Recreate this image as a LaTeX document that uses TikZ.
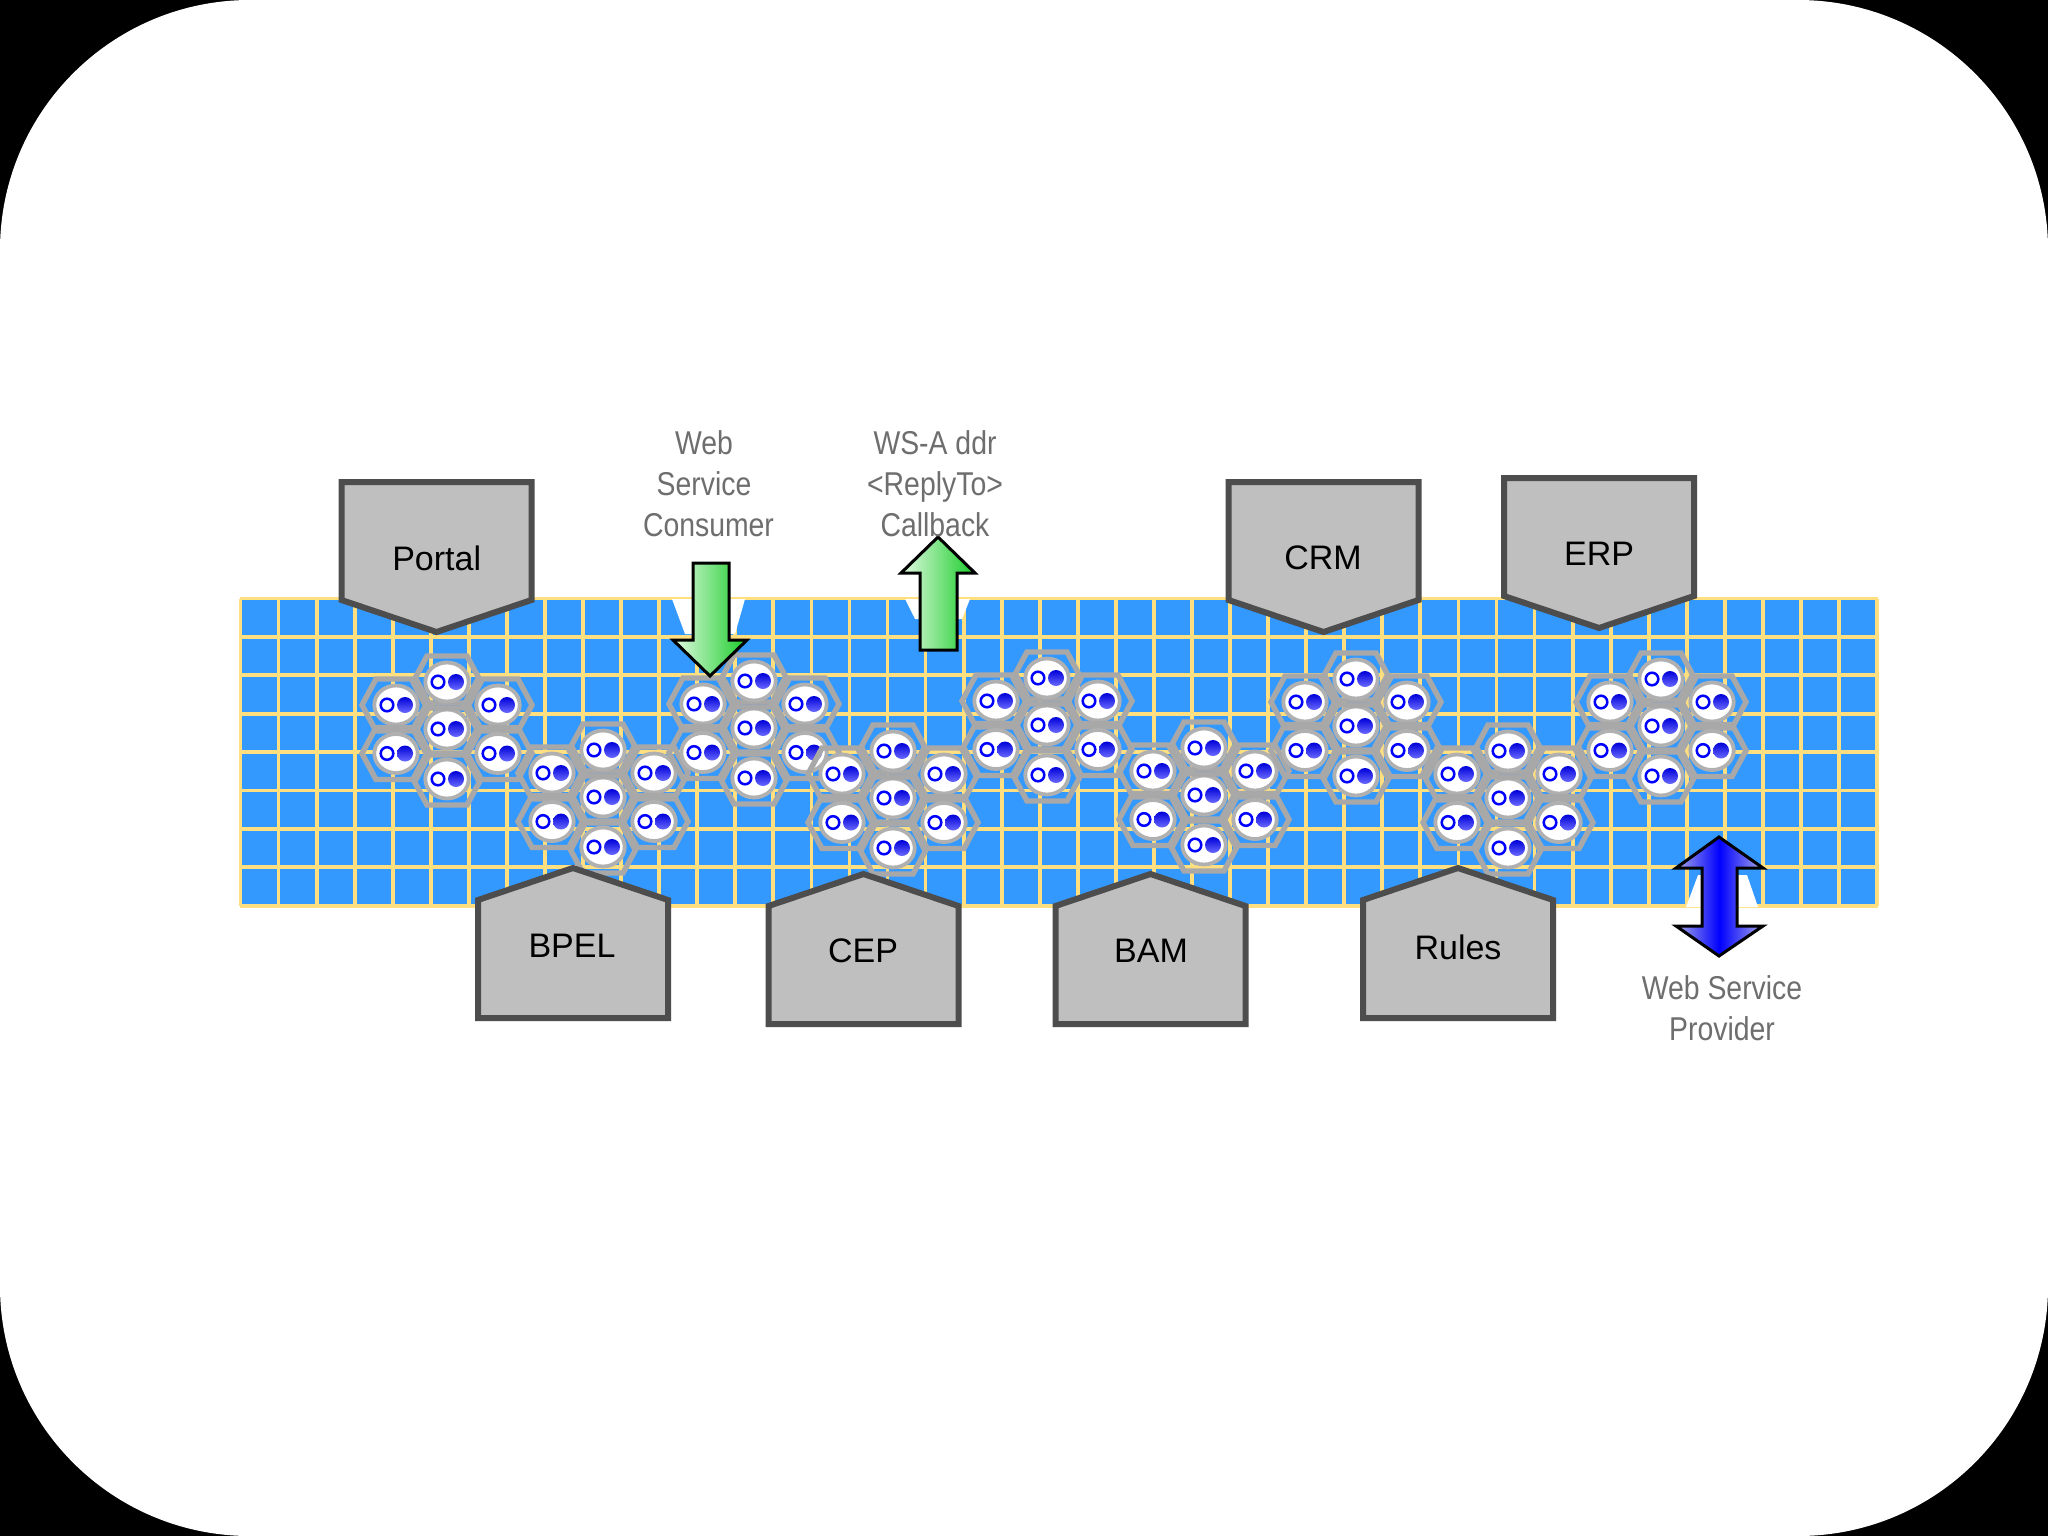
\documentclass[tikz,border=0pt]{standalone}
\usepackage{fontspec}
\setmainfont{Liberation Sans}
\newfontfamily\narrowf[FakeStretch=0.86]{Liberation Sans}
\definecolor{gridblue}{HTML}{3399FF}
\definecolor{gridyellow}{HTML}{FFDF80}
\definecolor{hexgray}{HTML}{A8A8A8}
\definecolor{ringgray}{HTML}{B0B0B0}
\definecolor{boxfill}{HTML}{BFBFBF}
\definecolor{boxline}{HTML}{4D4D4D}
\definecolor{captiongray}{HTML}{6E6E6E}
\definecolor{greenlight}{HTML}{E4FAE4}
\definecolor{greendark}{HTML}{18CC28}
\definecolor{bluelight}{HTML}{A8A8E8}
\definecolor{eyelight}{HTML}{6A6AFF}
\tikzset{
  gridline/.style={draw=gridyellow,line width=1.9pt},
  notch/.style={fill=white,draw=none},
  hexcell/.style={draw=hexgray,line width=2.7pt,line join=miter},
  ringcell/.style={draw=ringgray,fill=white,line width=1.9pt},
  openeye/.style={draw=blue,fill=white,line width=1.25pt},
  fulleye/.style={draw=none,top color=blue!85!black,bottom color=eyelight},
  sysbox/.style={draw=boxline,fill=boxfill,line width=3pt,line join=miter},
  syslabel/.style={font=\fontsize{17}{20}\selectfont,text=black,inner sep=0pt},
  caption/.style={font=\narrowf\fontsize{16.5}{20.5}\selectfont,text=captiongray,align=center,inner sep=0pt},
  greenarrow/.style={draw=black,line width=1.5pt,line join=miter,left color=greenlight,right color=greendark},
  bluearrow/.style={draw=black,line width=1.5pt,line join=miter,left color=bluelight,right color=bluelight,middle color=blue},
  eyehex/.pic={
    \draw[hexcell] (-34,0) -- (-20,-26) -- (20,-26) -- (34,0) -- (20,26) -- (-20,26) -- cycle;
    \draw[ringcell] (0,0) ellipse [x radius=21.7,y radius=19.5];
    \draw[openeye] (-9,0) circle [radius=6.3];
    \shade[fulleye] (9,0) circle [radius=8];
  },
  downbox/.pic={
    \draw[sysbox] (-95,-118) -- (95,-118) -- (95,0) -- (0,32) -- (-95,0) -- cycle;
  },
  upbox/.pic={
    \draw[sysbox] (-95,118) -- (95,118) -- (95,0) -- (0,-32) -- (-95,0) -- cycle;
  }
}
\begin{document}
\begin{tikzpicture}[x=0.5pt,y=-0.5pt]
\useasboundingbox (0,0) rectangle (2048,1536);
\fill[black] (0,0) rectangle (2048,1536);
\fill[white,rounded corners=125pt] (0,0) rectangle (2048,1536);
% grid
\fill[gridblue] (240.5,598.5) rectangle (1877,906);
\foreach \k in {0,...,43} \draw[gridline] ({240.5+38.06*\k},598.5) -- ({240.5+38.06*\k},906);
\foreach \k in {0,...,8} \draw[gridline] (239.6,{598.5+38.4*\k}) -- (1877.9,{598.5+38.4*\k});
% notches
\fill[notch] (672,599) -- (745,599) -- (735,634) -- (685,634) -- cycle;
\fill[notch] (905,599) -- (970,599) -- (962,619) -- (915,619) -- cycle;
\fill[notch] (1686,907) -- (1758,907) -- (1747,875) -- (1698,875) -- cycle;
% service clusters
\foreach \cx/\cy in {447/682,603/750,754/681,893/751,1047/678,1204/748,1356/679,1508/751,1661/679}
  \foreach \dx/\dy in {-51/23,51/23,0/47,-51/71.5,51/71.5,0/97}{
    \pic at ({\cx+\dx},{\cy+\dy}) {eyehex};
  }
\foreach \cx/\cy in {447/682,603/750,754/681,893/751,1047/678,1204/748,1356/679,1508/751,1661/679}
  \pic at (\cx,\cy) {eyehex};
% systems
\pic at (436.5,600) {downbox};
\pic at (1323.5,600) {downbox};
\pic at (1599,596) {downbox};
\pic at (573,900) {upbox};
\pic at (863.5,906) {upbox};
\pic at (1150.5,906) {upbox};
\pic at (1458,900) {upbox};
\node[syslabel] (portal) at (436.7,558) {Portal};
\node[syslabel] (crm) at (1323,558) {CRM};
\node[syslabel] (erp) at (1599,554) {ERP};
\node[syslabel] (bpel) at (572,946) {BPEL};
\node[syslabel] (cep) at (863,951) {CEP};
\node[syslabel] (bam) at (1151,951) {BAM};
\node[syslabel] (rules) at (1458,947) {Rules};
% arrows
\draw[greenarrow] (693,563) -- (729,563) -- (729,640) -- (747,640) -- (710,676) -- (673,640) -- (693,640) -- cycle;
\draw[greenarrow] (920,650) -- (957,650) -- (957,573) -- (975,573) -- (938,537) -- (901,573) -- (920,573) -- cycle;
\draw[bluearrow] (1719,837) -- (1763,868) -- (1737,868) -- (1737,926) -- (1763,926) -- (1719,956) -- (1676,926) -- (1702,926) -- (1702,868) -- (1676,868) -- cycle;
% captions
\node[caption,anchor=base] (consumer) at (704,536) {Web\\Service\\\hspace*{4.5pt}Consumer};
\node[caption,anchor=base] (replyto) at (935,536) {WS-A ddr\\<ReplyTo>\\Callback};
\node[caption,anchor=base] (provider) at (1722,1040) {Web Service\\Provider};
\end{tikzpicture}
\end{document}
